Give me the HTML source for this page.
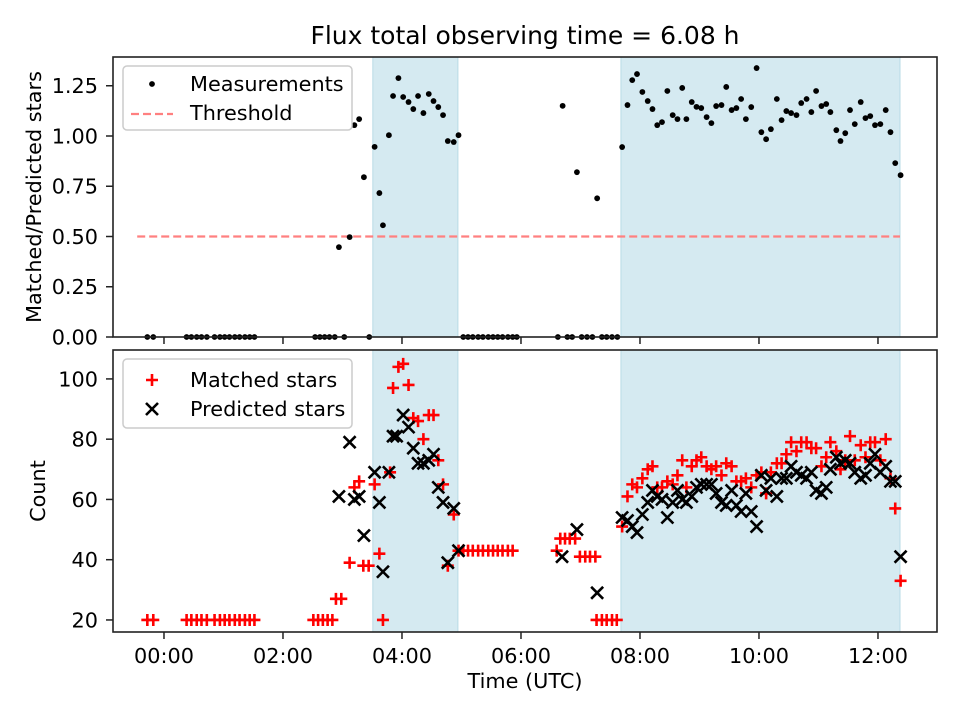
<!DOCTYPE html>
<html><head><meta charset="utf-8"><style>
body{margin:0;background:#fff;}
svg{display:block;font-family:"DejaVu Sans","Liberation Sans",sans-serif;}
</style></head><body>
<svg id="fig" width="960" height="720" viewBox="0 0 960 720"></svg>
<script>
const topTimes=[-0.28,-0.18,0.38,0.46,0.55,0.63,0.72,0.85,0.94,1.02,1.10,1.19,1.27,1.36,1.44,1.52,2.54,2.62,2.70,2.78,2.87,2.94,3.03,3.12,3.20,3.28,3.36,3.45,3.54,3.62,3.68,3.78,3.85,3.94,4.02,4.11,4.19,4.27,4.36,4.45,4.53,4.61,4.69,4.77,4.87,4.95,5.03,5.11,5.19,5.28,5.36,5.45,5.53,5.61,5.69,5.78,5.86,5.93,6.62,6.70,6.78,6.86,6.94,7.02,7.11,7.20,7.28,7.36,7.44,7.53,7.62,7.70,7.79,7.87,7.95,8.04,8.13,8.21,8.29,8.37,8.46,8.55,8.63,8.71,8.78,8.87,8.95,9.03,9.12,9.20,9.28,9.37,9.45,9.54,9.62,9.70,9.78,9.87,9.96,10.04,10.12,10.20,10.30,10.38,10.46,10.54,10.63,10.71,10.80,10.88,10.96,11.05,11.13,11.20,11.30,11.37,11.45,11.53,11.61,11.71,11.79,11.87,11.95,12.04,12.13,12.21,12.29,12.38];
const topRatios=[0,0,0,0,0,0,0,0,0,0,0,0,0,0,0,0,0,0,0,0,0,0.447,0,0.497,1.054,1.084,0.795,0,0.946,0.716,0.556,1.004,1.199,1.288,1.194,1.169,1.134,1.199,1.114,1.209,1.174,1.144,1.104,0.975,0.970,1.004,0,0,0,0,0,0,0,0,0,0,0,0,0,1.15,0,0,0.82,0,0,0,0.69,0,0,0,0,0.945,1.154,1.278,1.308,1.219,1.174,1.134,1.054,1.069,1.224,1.104,1.084,1.239,1.084,1.169,1.145,1.139,1.094,1.064,1.149,1.154,1.244,1.129,1.139,1.184,1.084,1.144,1.338,1.019,0.984,1.034,1.184,1.079,1.124,1.114,1.104,1.164,1.184,1.119,1.224,1.149,1.159,1.119,1.029,0.975,1.014,1.129,1.059,1.169,1.089,1.099,1.054,1.059,1.129,1.019,0.865,0.805];
const thresholdValue=0.5;
const thresholdRange=[-0.45,12.37];
const shadeSpans=[[3.51,4.94],[7.68,12.37]];
const matchedTimes=[-0.28,-0.18,0.38,0.46,0.55,0.63,0.72,0.85,0.94,1.02,1.10,1.19,1.27,1.36,1.44,1.52,2.51,2.59,2.67,2.75,2.83,2.89,2.98,3.12,3.20,3.28,3.35,3.44,3.54,3.62,3.68,3.80,3.85,3.94,4.02,4.11,4.19,4.27,4.36,4.45,4.53,4.61,4.69,4.77,4.87,4.95,5.03,5.11,5.19,5.28,5.36,5.45,5.53,5.61,5.69,5.78,5.86,6.60,6.66,6.74,6.82,6.91,6.99,7.08,7.16,7.25,7.27,7.36,7.44,7.53,7.61,7.70,7.79,7.87,7.95,8.04,8.13,8.21,8.29,8.37,8.46,8.55,8.63,8.71,8.78,8.87,8.95,9.03,9.12,9.20,9.28,9.37,9.45,9.54,9.62,9.70,9.78,9.87,9.96,10.04,10.12,10.20,10.30,10.38,10.46,10.54,10.63,10.71,10.80,10.88,10.96,11.05,11.13,11.20,11.30,11.37,11.45,11.53,11.61,11.71,11.79,11.87,11.95,12.04,12.13,12.21,12.29,12.38];
const matchedValues=[20,20,20,20,20,20,20,20,20,20,20,20,20,20,20,20,20,20,20,20,20,27,27,39,64,66,38,38,65,42,20,69,97,104,105,98,87,86,80,88,88,73,65,38,55,43,43,43,43,43,43,43,43,43,43,43,43,43,47,47,47,47,41,41,41,41,20,20,20,20,20,51,61,65,64,67,70,71,64,64,66,65,68,73,64,71,73,74,71,70,71,68,72,71,66,66,67,64,68,69,62,69,72,72,75,79,76,79,79,77,77,71,74,79,76,70,73,81,73,78,74,79,79,73,80,67,57,33];
const predTimes=[2.94,3.12,3.20,3.28,3.36,3.54,3.62,3.68,3.78,3.85,3.91,4.02,4.11,4.19,4.27,4.36,4.45,4.53,4.61,4.69,4.77,4.87,4.95,6.69,6.94,7.28,7.70,7.79,7.87,7.95,8.04,8.13,8.21,8.29,8.37,8.46,8.55,8.63,8.71,8.78,8.87,8.95,9.03,9.12,9.20,9.28,9.37,9.45,9.54,9.62,9.70,9.78,9.87,9.96,10.04,10.12,10.20,10.30,10.38,10.46,10.54,10.63,10.71,10.80,10.88,10.96,11.05,11.13,11.20,11.30,11.37,11.45,11.53,11.61,11.71,11.79,11.87,11.95,12.04,12.13,12.21,12.29,12.38];
const predValues=[61,79,60,61,48,69,59,36,69,81,81,88,84,77,72,72,73,75,64,59,39,57,43,41,50,29,54,53,51,49,55,59,63,61,60,54,59,63,60,59,61,64,65,65,65,62,59,58,63,58,56,62,56,51,68,63,67,61,67,67,71,69,68,67,69,63,62,64,70,74,72,73,72,69,67,68,72,75,69,71,66,66,41];
const xTickVals=[0,2,4,6,8,10,12];
const xTickLabels=["00:00","02:00","04:00","06:00","08:00","10:00","12:00"];
const topYTicks=[0,0.25,0.5,0.75,1.0,1.25];
const topYLabels=["0.00","0.25","0.50","0.75","1.00","1.25"];
const botYTicks=[20,40,60,80,100];
const botYLabels=["20","40","60","80","100"];

const NS="http://www.w3.org/2000/svg";
const svg=document.getElementById('fig');
function mk(tag,attrs,parent){const e=document.createElementNS(NS,tag);for(const k in attrs)e.setAttribute(k,attrs[k]);(parent||svg).appendChild(e);return e;}
const L=113,R=937;
const xDom=[-0.857,12.992];
const xs=t=>L+(t-xDom[0])/(xDom[1]-xDom[0])*(R-L);
const T={top:57,bot:337,d:[0,1.393]}, B={top:350,bot:632,d:[16,109.6]};
const ys=(ax,v)=>ax.bot-(v-ax.d[0])/(ax.d[1]-ax.d[0])*(ax.bot-ax.top);

function shade(ax,name){
  const g=mk('g',{});
  
  
  shadeSpans.forEach(s=>{
    const r=mk('rect',{x:xs(s[0]),y:ax.top,width:xs(s[1])-xs(s[0]),height:ax.bot-ax.top,fill:'#d5eaf1',stroke:'#b9dbe6','stroke-width':1},g);
    
    
  });
}
function frame(ax,yTicks,yLabels,showXLabels,prefix){
  const g=mk('g',{});
  
  
  mk('rect',{x:L,y:ax.top,width:R-L,height:ax.bot-ax.top,fill:'none',stroke:'#222','stroke-width':1.6},g);
  yTicks.forEach((v,i)=>{const y=ys(ax,v);mk('line',{x1:L-7,x2:L,y1:y,y2:y,stroke:'#222','stroke-width':1.5},g);
    const t=mk('text',{x:L-15,y:y+7.5,'text-anchor':'end','font-size':20.8},g);t.textContent=yLabels[i];
    
    });
  xTickVals.forEach((v,i)=>{const x=xs(v);mk('line',{x1:x,x2:x,y1:ax.bot,y2:ax.bot+7,stroke:'#222','stroke-width':1.5},g);
    if(showXLabels){const t=mk('text',{x:x,y:ax.bot+31,'text-anchor':'middle','font-size':20.8},g);t.textContent=xTickLabels[i];
    
    }});
}
shade(T,'top-panel-shading');
const th=mk('line',{x1:xs(thresholdRange[0]),x2:xs(thresholdRange[1]),y1:ys(T,thresholdValue),y2:ys(T,thresholdValue),stroke:'#ff8080','stroke-width':2.2,'stroke-dasharray':'8,4'});


const gm=mk('g',{});


topTimes.forEach((t,i)=>{mk('circle',{cx:xs(t),cy:ys(T,topRatios[i]),r:2.9,fill:'#000'},gm);});
frame(T,topYTicks,topYLabels,false,'top');
shade(B,'bottom-panel-shading');
const gMatched=mk('g',{stroke:'#f00','stroke-width':2.6});


matchedTimes.forEach((t,i)=>{const x=xs(t),y=ys(B,matchedValues[i]);
  mk('path',{d:`M${x-6},${y}H${x+6}M${x},${y-6}V${y+6}`},gMatched);});
const gPred=mk('g',{stroke:'#000','stroke-width':2.6});


predTimes.forEach((t,i)=>{const x=xs(t),y=ys(B,predValues[i]);
  mk('path',{d:`M${x-6},${y-6}L${x+6},${y+6}M${x-6},${y+6}L${x+6},${y-6}`},gPred);});
frame(B,botYTicks,botYLabels,true,'bottom');
</script>
<svg width="960" height="720" style="position:absolute;left:0;top:0">
  <text x="525" y="44" text-anchor="middle" font-size="25" font-family="DejaVu Sans, Liberation Sans, sans-serif">Flux total observing time = 6.08 h</text>
  <text transform="translate(41,197) rotate(-90)" text-anchor="middle" font-size="20.8" font-family="DejaVu Sans, Liberation Sans, sans-serif">Matched/Predicted stars</text>
  <text transform="translate(45,491) rotate(-90)" text-anchor="middle" font-size="20.8" font-family="DejaVu Sans, Liberation Sans, sans-serif">Count</text>
  <text x="525" y="688" text-anchor="middle" font-size="20.8" font-family="DejaVu Sans, Liberation Sans, sans-serif">Time (UTC)</text>
  <g font-family="DejaVu Sans, Liberation Sans, sans-serif" font-size="20.8">
    <rect x="123" y="66" width="229" height="64" rx="4" fill="#fff" fill-opacity="0.8" stroke="#ccc" stroke-width="1.5"/>
    <circle cx="152" cy="84" r="2.9" fill="#000"/>
    <text x="190" y="91">Measurements</text>
    <line x1="131" x2="173" y1="114" y2="114" stroke="#ff8080" stroke-width="2.2" stroke-dasharray="8,4"/>
    <text x="190" y="120">Threshold</text>
  </g>
  <g font-family="DejaVu Sans, Liberation Sans, sans-serif" font-size="20.8">
    <rect x="123" y="359" width="229" height="69" rx="4" fill="#fff" fill-opacity="0.8" stroke="#ccc" stroke-width="1.5"/>
    <path d="M146,380H158M152,374V386" stroke="#f00" stroke-width="2.6"/>
    <text x="190" y="387">Matched stars</text>
    <path d="M146,403L158,415M146,415L158,403" stroke="#000" stroke-width="2.6"/>
    <text x="190" y="416">Predicted stars</text>
  </g>
</svg>
</body></html>
